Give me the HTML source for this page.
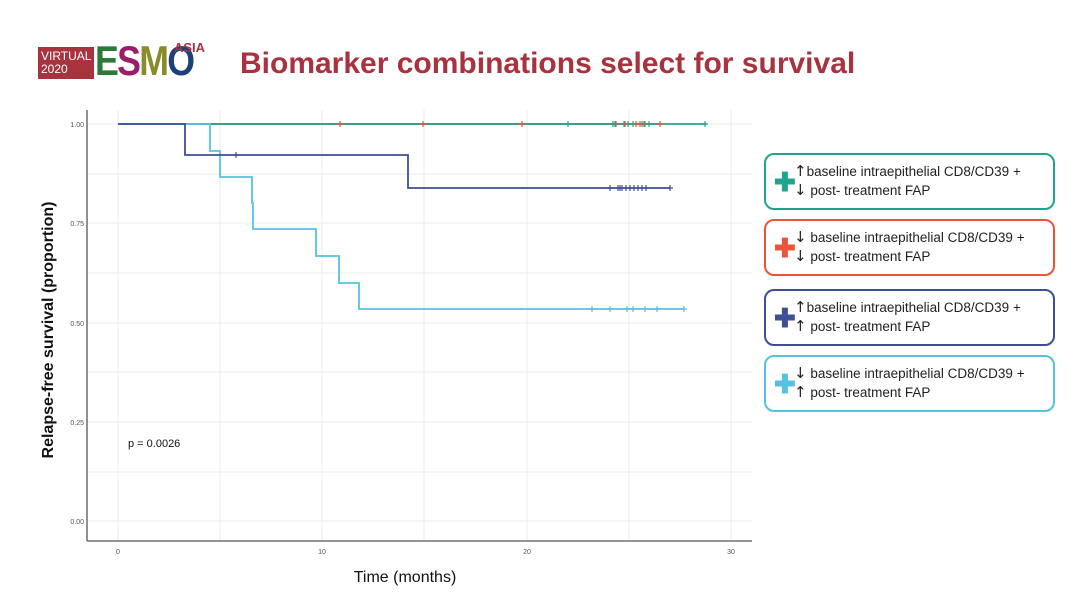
<!DOCTYPE html>
<html><head><meta charset="utf-8"><style>
body{margin:0;background:#fff;width:1080px;height:607px;overflow:hidden;font-family:"Liberation Sans",sans-serif;}
.box{position:absolute;left:764px;width:291px;height:57px;border:2px solid;border-radius:10px;box-sizing:border-box;}
.box .pl{position:absolute;left:8px;top:17px;font-size:26px;font-weight:bold;line-height:20px;}
.box .t{position:absolute;left:28px;top:7px;font-size:13.5px;line-height:18px;color:#222;white-space:nowrap;}
.a{font-family:"DejaVu Sans",sans-serif;font-size:15px;}
</style></head><body>
<div style="position:absolute;left:38px;top:47px;width:56px;height:32px;background:#a8333f;color:#fff;font-size:12px;line-height:13px;padding:3px 0 0 3px;box-sizing:border-box;">VIRTUAL<br>2020</div>
<div style="position:absolute;left:95px;top:40px;font-size:42px;font-weight:bold;letter-spacing:-2px;line-height:42px;transform:scaleX(0.85);transform-origin:0 0;"><span style="color:#2c7a3a">E</span><span style="color:#9c1e6a">S</span><span style="color:#8a8c2a">M</span><span style="color:#1d3f7a">O</span></div>
<div style="position:absolute;left:174px;top:40px;font-size:13px;font-weight:bold;color:#a8333f;">ASIA</div>
<div style="position:absolute;left:240px;top:47px;font-size:30px;font-weight:bold;color:#a8323e;">Biomarker combinations select for survival</div>
<svg width="1080" height="607" style="position:absolute;left:0;top:0">
<g stroke="#ebebeb" stroke-width="1">
<line x1="88" x2="752" y1="124" y2="124"/><line x1="88" x2="752" y1="223" y2="223"/><line x1="88" x2="752" y1="323" y2="323"/><line x1="88" x2="752" y1="422" y2="422"/><line x1="88" x2="752" y1="521" y2="521"/>
<line x1="88" x2="752" y1="174" y2="174"/><line x1="88" x2="752" y1="273" y2="273"/><line x1="88" x2="752" y1="372" y2="372"/><line x1="88" x2="752" y1="472" y2="472"/>
<line x1="118" x2="118" y1="110" y2="540"/><line x1="220" x2="220" y1="110" y2="540"/><line x1="322" x2="322" y1="110" y2="540"/><line x1="424" x2="424" y1="110" y2="540"/><line x1="527" x2="527" y1="110" y2="540"/><line x1="629" x2="629" y1="110" y2="540"/><line x1="731" x2="731" y1="110" y2="540"/>
</g>
<g stroke="#555" stroke-width="1.3"><line x1="87" y1="110" x2="87" y2="541"/><line x1="87" y1="541" x2="752" y2="541"/></g>
<g font-size="7" fill="#555" text-anchor="end"><text x="84" y="127">1.00</text><text x="84" y="226">0.75</text><text x="84" y="326">0.50</text><text x="84" y="425">0.25</text><text x="84" y="524">0.00</text></g>
<g font-size="7" fill="#555" text-anchor="middle"><text x="118" y="554">0</text><text x="322" y="554">10</text><text x="527" y="554">20</text><text x="731" y="554">30</text></g>
<text x="128" y="447" font-size="11" fill="#111">p = 0.0026</text>
<text x="405" y="582" font-size="16" text-anchor="middle" fill="#111">Time (months)</text>
<text transform="translate(53,330) rotate(-90)" font-size="16" font-weight="bold" text-anchor="middle" fill="#111">Relapse-free survival (proportion)</text>
<g fill="none" stroke-width="1.8">
<polyline stroke="#e8553a" points="118,124 660,124"/>
<polyline stroke="#1fa58c" points="118,124 706,124"/>
<polyline stroke="#56c2e0" points="118,124 210,124 210,151 220,151 220,177 252,177 252,203 253,203 253,229 316,229 316,256 339,256 339,283 359,283 359,309 684,309"/>
<polyline stroke="#3f4f96" points="118,124 185,124 185,155 408,155 408,188 670,188"/>
</g>
<g stroke-width="1.2">
<g stroke="#e8553a"><path d="M340 121v6M337 124h6M423 121v6M420 124h6M522 121v6M519 124h6M616 121v6M613 124h6M625 121v6M622 124h6M636 121v6M633 124h6M640 121v6M637 124h6M644 121v6M641 124h6M660 121v6M657 124h6"/></g>
<g stroke="#1fa58c"><path d="M568 121v6M565 124h6M613 121v6M610 124h6M615 121v6M624 121v6M628 121v6M633 121v6M642 121v6M645 121v6M649 121v6M705 121v6M702 124h6"/></g>
<g stroke="#56c2e0"><path d="M592 306v6M589 309h6M610 306v6M607 309h6M627 306v6M624 309h6M633 306v6M645 306v6M642 309h6M657 306v6M654 309h6M684 306v6M681 309h6"/></g>
<g stroke="#3f4f96"><path d="M236 152v6M233 155h6M610 185v6M607 188h6M620 185v6M618 185v6M622 185v6M626 185v6M630 185v6M634 185v6M638 185v6M642 185v6M646 185v6M670 185v6M667 188h6"/></g>
</g>
</svg>
<div class="box" style="top:153px;border-color:#1fa58c"><span class="pl" style="color:#1fa58c">✚</span><div class="t"><span class="a">↑</span>baseline intraepithelial CD8/CD39 +<br><span class="a">↓</span> post- treatment FAP</div></div>
<div class="box" style="top:219px;border-color:#e8553a"><span class="pl" style="color:#e8553a">✚</span><div class="t"><span class="a">↓</span> baseline intraepithelial CD8/CD39 +<br><span class="a">↓</span> post- treatment FAP</div></div>
<div class="box" style="top:289px;border-color:#3f4f96"><span class="pl" style="color:#3f4f96">✚</span><div class="t"><span class="a">↑</span>baseline intraepithelial CD8/CD39 +<br><span class="a">↑</span> post- treatment FAP</div></div>
<div class="box" style="top:355px;border-color:#56c2e0"><span class="pl" style="color:#56c2e0">✚</span><div class="t"><span class="a">↓</span> baseline intraepithelial CD8/CD39 +<br><span class="a">↑</span> post- treatment FAP</div></div>
</body></html>
